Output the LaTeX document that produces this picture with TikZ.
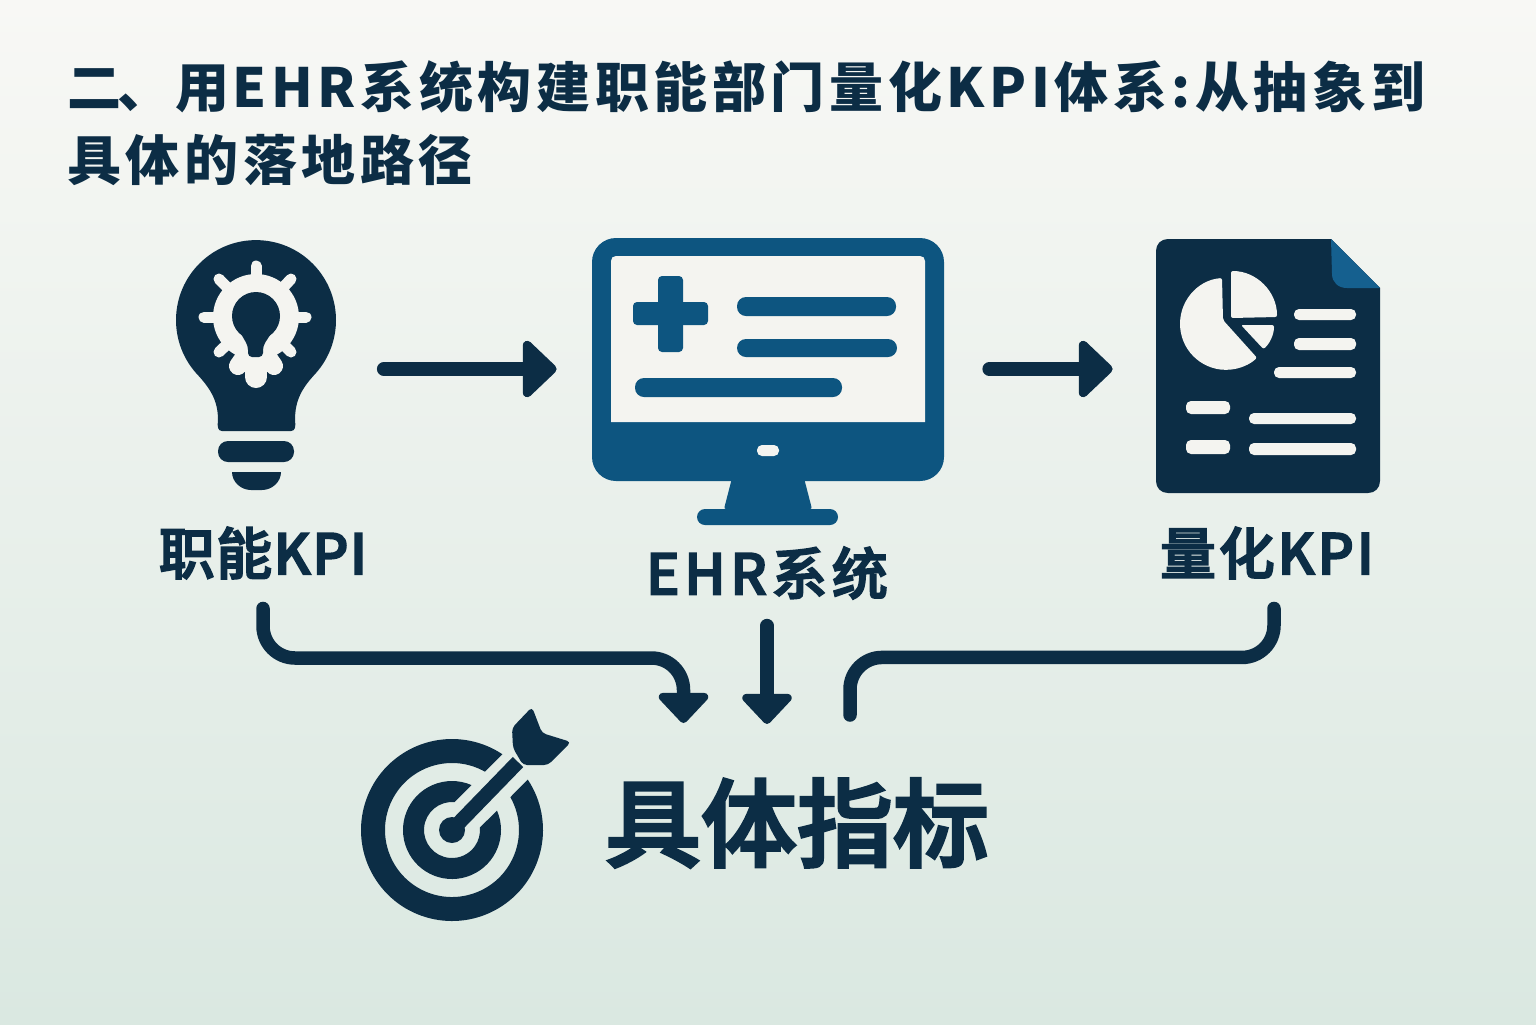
\documentclass[tikz,border=0pt]{standalone}
\usepackage{fontspec}
\setmainfont{Noto Sans CJK SC}
\newfontfamily\medfont[FakeBold=3]{Noto Sans CJK SC Medium}
\usetikzlibrary{arrows.meta,calc}
\definecolor{navy}{HTML}{0C2D45}
\definecolor{steel}{HTML}{0D5580}
\definecolor{fold}{HTML}{15608F}
\definecolor{paper}{HTML}{F4F4F0}
\definecolor{bgtop}{HTML}{F8F8F5}
\definecolor{bgmid}{HTML}{E8EFE9}
\definecolor{bgbot}{HTML}{DAE8E1}
\tikzset{
	lbl/.style={text=navy,font=\medfont\fontsize{28pt}{34pt}\selectfont,inner sep=0pt},
	iconbox/.style={inner sep=0pt,minimum height=20pt},
	flowline/.style={navy,line width=6.75pt,line cap=round},
	flowarrow/.style={flowline,-{Triangle[length=16pt,width=29pt,round]}},
	bigarrow/.style={flowline,line width=7pt,-{Triangle[length=18pt,width=33pt,round]}},
	geartooth/.style={paper,line width=5.5pt,line cap=round}
}
\begin{document}
\begin{tikzpicture}[x=0.5pt,y=-0.5pt]
		\useasboundingbox (0,0) rectangle (1536,1024);
		% background
		\shade[top color=bgtop,middle color=bgmid,bottom color=bgbot] (0,0) rectangle (1536,1024);
		% title
		\node[anchor=north west,text=navy,inner sep=0pt,align=left,font=\bfseries\fontsize{27pt}{36.5pt}\selectfont\addfontfeature{LetterSpace=8.5}] (title) at (67,60) {二\kern-2pt、用\kern1.5pt EHR系统构建职能部门量化KPI体系:从抽象到\\具体的落地路径};
		% bulb
		\fill[navy] (222,431) .. controls (218,431) and (217,427) .. (218,420) .. controls (218,400) and (210,388) .. (196,373) arc[start angle=138.6,end angle=401.4,radius=80] .. controls (302,388) and (295,400) .. (295,420) .. controls (296,427) and (295,431) .. (291,431) -- cycle;
		\fill[navy,rounded corners=5pt] (218,441) rectangle (294,462);
		\fill[navy] (232,472) -- (281,472) .. controls (281,482) and (272,490) .. (262,490) -- (251,490) .. controls (241,490) and (232,482) .. (232,472) -- cycle;
		% gear in the bulb
		\fill[paper] (256,317) circle (43);
		\draw[geartooth] (256,317) -- (256,266);
		\draw[geartooth] (256,317) -- (306,317);
		\draw[geartooth] (256,317) -- (204,317);
		\draw[geartooth] (256,317) -- (291,279);
		\draw[geartooth] (256,317) -- (219,279);
		\draw[geartooth] (256,317) -- (291,352);
		\draw[geartooth] (256,317) -- (219,352);
		\draw[geartooth,line width=9pt] (256,340) -- (238,366);
		\draw[geartooth,line width=9pt] (256,340) -- (274,366);
		\draw[geartooth,line width=11pt] (256,340) -- (256,377);
		\fill[navy] (256,316) circle (24);
		\fill[navy,rounded corners=2pt] (240,332) -- (272,332) -- (263,346) -- (263,357) -- (248,357) -- (248,346) -- cycle;
		% monitor
		\fill[steel,rounded corners=12pt] (592,238) rectangle (944,481);
		\fill[steel,rounded corners=1pt] (732,478) -- (804,478) -- (812,509) -- (724,509) -- cycle;
		\fill[steel,rounded corners=4pt] (697,509) rectangle (838,525);
		\fill[paper] (611,422) -- (611,261) .. controls (611,258) and (613,256) .. (616,256) -- (920,256) .. controls (923,256) and (925,258) .. (925,261) -- (925,422) -- cycle;
		\fill[paper,rounded corners=2.5pt] (757,445) rectangle (779,456);
		\fill[steel,rounded corners=2pt] (658,276) rectangle (683,352);
		\fill[steel,rounded corners=2pt] (633,302) rectangle (708,325);
		\fill[steel,rounded corners=4.5pt] (737,297) rectangle (896,316);
		\fill[steel,rounded corners=4.5pt] (737,339) rectangle (897,357);
		\fill[steel,rounded corners=4.5pt] (635,378) rectangle (842,397);
		% report sheet
		\fill[navy] (1168,239) -- (1331,239) -- (1380,288) -- (1380,481) .. controls (1380,488) and (1375,493) .. (1368,493) -- (1168,493) .. controls (1161,493) and (1156,488) .. (1156,481) -- (1156,251) .. controls (1156,244) and (1161,239) .. (1168,239) -- cycle;
		\fill[fold] (1331,239) -- (1380,288) -- (1347,288) .. controls (1338,288) and (1332,282) .. (1332,274) -- cycle;
		% pie slices
		\fill[paper,rounded corners=1pt] (1222,278) arc[start angle=265,end angle=47.6,radius=46] -- (1223,320) -- cycle;
		\fill[paper,rounded corners=1pt] (1231,271) arc[start angle=-90,end angle=0,radius=46] -- (1231,318) -- cycle;
		\fill[paper,rounded corners=1pt] (1274,325) arc[start angle=0,end angle=47,radius=33] -- (1241,325) -- cycle;
		% report lines
		\fill[paper,rounded corners=2.5pt] (1294,309) rectangle (1356,320);
		\fill[paper,rounded corners=2.5pt] (1294,338) rectangle (1356,350);
		\fill[paper,rounded corners=2.5pt] (1274,367) rectangle (1356,378);
		\fill[paper,rounded corners=2.5pt] (1186,401) rectangle (1230,414);
		\fill[paper,rounded corners=2.5pt] (1249,413) rectangle (1356,424);
		\fill[paper,rounded corners=2.5pt] (1186,440) rectangle (1230,454);
		\fill[paper,rounded corners=2.5pt] (1249,443) rectangle (1356,455);
		% target rings
		\begin{scope}[shift={(452,830)}]
		\fill[navy] (-33.6:91) arc[start angle=-33.6,end angle=303.6,radius=91] -- (299.4:67) arc[start angle=299.4,end angle=-29.4,radius=67] -- cycle;
		\fill[navy] (-23.4:49) arc[start angle=-23.4,end angle=293.4,radius=49] -- (275:28) arc[start angle=275,end angle=-5,radius=28] -- cycle;
		\fill[navy] (0,0) circle (13);
		\end{scope}
		% dart
		\draw[navy,line width=7.25pt] (452,830) -- (518,762);
		\fill[navy,rounded corners=2pt] (512,728) -- (532,707) -- (542,733) -- (571,742) -- (548,765) -- (523,765) -- (513,748) -- cycle;
		% named places
		\node[iconbox,minimum width=79.5pt] (bulbicon) at (256,369) {};
		\node[iconbox,minimum width=176pt] (ehricon) at (768,369) {};
		\node[iconbox,minimum width=112pt] (reporticon) at (1268,369) {};
		\node[lbl,font=\medfont\fontsize{28pt}{34pt}\selectfont\addfontfeature{LetterSpace=2.5}] (kpilabel) at (263,553) {职能KPI};
		\node[lbl,font=\medfont\fontsize{28pt}{34pt}\selectfont\addfontfeature{LetterSpace=8}] (ehrlabel) at (767,573) {EHR系统};
		\node[lbl,font=\medfont\fontsize{28pt}{34pt}\selectfont\addfontfeature{LetterSpace=5}] (qkpilabel) at (1267,553) {量化KPI};
		\node[lbl,font=\medfont\fontsize{48pt}{58pt}\selectfont] (targetlabel) at (797,823) {具体指标};
		\coordinate (leftin) at (683.5,723);
		\coordinate (rightin) at (850,715);
		% arrows
		\draw[bigarrow,shorten <=24pt,shorten >=17.5pt] (bulbicon.east) -- (ehricon.west);
		\draw[bigarrow,shorten <=22.5pt,shorten >=21.5pt] (ehricon.east) -- (reporticon.west);
		\draw[flowarrow,shorten <=14.5pt,rounded corners=16pt] (kpilabel.south) |- (leftin |- 0,658) -- (leftin);
		\draw[flowarrow,shorten <=13pt,shorten >=27pt] (ehrlabel.south) -- (ehrlabel.south |- targetlabel.north);
		\draw[flowline,rounded corners=16pt] ($(qkpilabel.south)+(7,29)$) -- ($(qkpilabel.south)+(7,78)$) -| (rightin);
		\end{tikzpicture}
\end{document}
